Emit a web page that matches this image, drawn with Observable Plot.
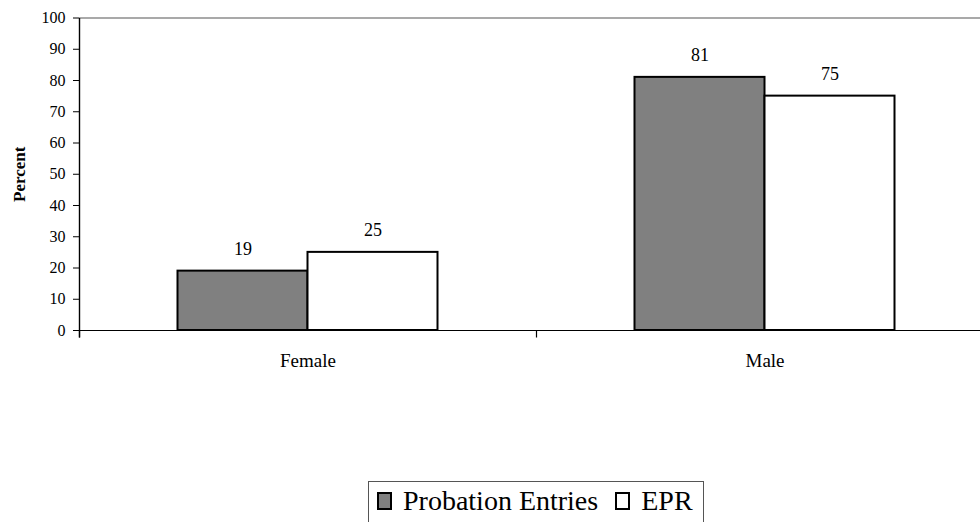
<!DOCTYPE html>
<html>
<head>
<meta charset="utf-8">
<script src="https://cdn.jsdelivr.net/npm/d3@7"></script>
<script src="https://cdn.jsdelivr.net/npm/@observablehq/plot@0.6"></script>
<style>
  body { margin: 0; background: #fff; font-family: Liberation Serif, serif; }
  #wrap { position: relative; width: 980px; height: 522px; overflow: hidden; }
  #legend {
    position: absolute; left: 368px; top: 481px; width: 336px; height: 60px;
    border: 1px solid #555; box-sizing: border-box;
    font-family: Liberation Serif, serif; font-size: 28px; line-height: 28px;
    padding: 4.6px 0 0 7px; white-space: nowrap; color: #000;
  }
  .sw { display: inline-block; box-sizing: border-box; width: 15px; height: 18px; border: 2px solid #000; vertical-align: baseline; }
  .item { display: inline; }
</style>
</head>
<body>
<div id="wrap"><div id="chart"></div><div id="legend"></div></div>
<script>
const categories = ["Female", "Male"];
const series = ["Probation Entries", "EPR"];
const probationEntries = [19, 81];
const epr = [25, 75];
const seriesColors = ["#808080", "#ffffff"];
const yTicks = [0, 10, 20, 30, 40, 50, 60, 70, 80, 90, 100];

const seriesValues = [probationEntries, epr];
const rows = [];
categories.forEach((c, i) => series.forEach((s, j) => rows.push({category: c, series: s, value: seriesValues[j][i]})));

const H = 478, MT = 17.5, MB = 148;
const innerH = H - MT - MB;
const tickSymbol = { draw(ctx) { ctx.moveTo(0, 0); ctx.lineTo(0, 7); } };
const axisSymbol = { draw(ctx) { ctx.moveTo(0, 7); ctx.lineTo(0, -innerH); } };
const FONT = "Liberation Serif";

const chart = Plot.plot({
  width: 980,
  height: H,
  marginLeft: 78.5,
  marginRight: 0,
  marginTop: MT,
  marginBottom: MB,
  style: "font-family: Liberation Serif, serif; font-size: 16px; color: #000; background: #fff;",
  facet: { data: rows, x: "category" },
  fx: { domain: categories, range: [78.5, 992.5], padding: 0, axis: null, label: null },
  x: { domain: series, paddingInner: 0, paddingOuter: 0.75, axis: null },
  y: { domain: [0, 100], axis: null },
  color: { domain: series, range: seriesColors },
  marks: [
    Plot.ruleY([100], { stroke: "#555", strokeWidth: 1.2 }),
    Plot.barY(rows, { x: "series", y: "value", fill: "series", stroke: "#000", strokeWidth: 2 }),
    Plot.text(rows, { x: "series", y: "value", text: d => String(d.value), dy: -22, fontSize: 18, fontFamily: FONT }),
    Plot.ruleY([0], { stroke: "#000", strokeWidth: 1.2 }),
    Plot.dot([0], { frameAnchor: "bottom-left", symbol: tickSymbol, stroke: "#000", strokeWidth: 1.2, r: 3 }),
    Plot.dot(rows, { filter: d => d.category === categories[0] && d.series === series[0], frameAnchor: "bottom-left", symbol: axisSymbol, stroke: "#000", strokeWidth: 1.4, r: 3 }),
    Plot.axisFx({ anchor: "bottom", tickSize: 0, tickPadding: 23, label: null, fontSize: 19, fontFamily: FONT }),
    Plot.axisY({ ticks: yTicks, tickSize: 6, tickPadding: 8, label: "Percent", labelAnchor: "center", labelArrow: "none", labelOffset: 67, fontSize: 16, fontFamily: FONT })
  ]
});
document.getElementById("chart").appendChild(chart);

chart.querySelectorAll("text").forEach(t => {
  t.style.fontFamily = FONT;
  if (t.textContent.trim() === "Percent") { t.setAttribute("font-weight", "bold"); t.setAttribute("font-size", "17"); }
});

const legend = document.getElementById("legend");
series.forEach((s, i) => {
  const item = document.createElement("span");
  item.className = "item";
  const sw = document.createElement("span");
  sw.className = "sw";
  sw.style.background = seriesColors[i];
  sw.style.marginLeft = i === 0 ? "1px" : "17px";
  sw.style.marginRight = "11px";
  item.appendChild(sw);
  const tx = document.createElement("span");
  tx.textContent = s;
  item.appendChild(tx);
  legend.appendChild(item);
});
</script>
</body>
</html>
